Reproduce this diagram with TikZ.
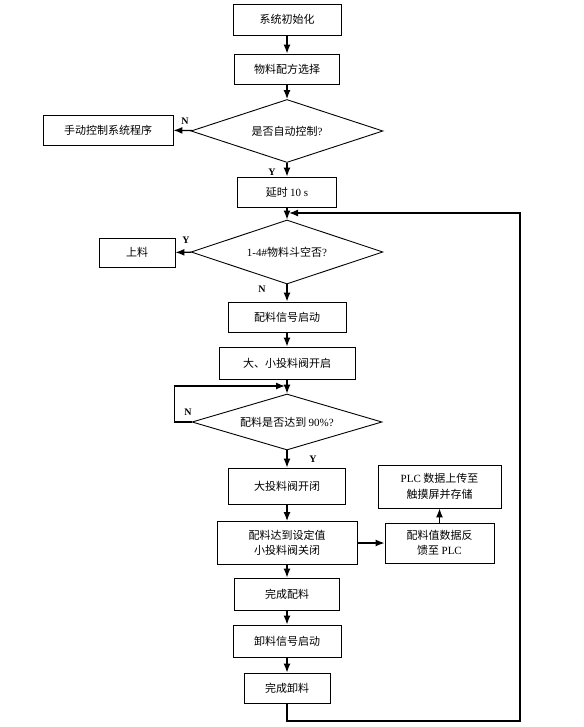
\documentclass[tikz,border=0pt]{standalone}
\usepackage{fontspec}
\setmainfont{Liberation Serif}
\newfontfamily\cjk{Noto Sans CJK SC}
\usetikzlibrary{shapes.geometric,arrows.meta}

\begin{document}
\begin{tikzpicture}[x=1pt, y=-1pt,
  every node/.style={font=\cjk\fontsize{11}{15.5}\selectfont},
  box/.style={rectangle, draw, line width=0.9pt, align=center, minimum height=30pt},
  choice/.style={diamond, draw, line width=0.9pt, aspect=3, minimum width=192pt, minimum height=63pt, inner sep=0pt},
  arr/.style={-{Latex[length=9pt,width=7pt]}, line width=1.3pt},
  yn/.style={font=\rmfamily\bfseries\fontsize{10}{12}\selectfont, inner sep=0pt}]

\useasboundingbox (0,0) rectangle (583,727);

% The batching flow chart, one column down the middle.

\node[box, minimum width=108pt, minimum height=31pt] (init) at (287,19.5) {系统初始化};
\node[box, minimum width=105pt] (recipe) at (287,69) {物料配方选择};
\node[choice] (auto) at (287,131) {是否自动控制{\rmfamily ?}};
\node[box, minimum width=130pt] (manual) at (108,130) {手动控制系统程序};
\node[box, minimum width=99pt] (delay) at (287,192) {延时 {\rmfamily 10 s}};
\coordinate (join1) at (287,213);
\node[choice, minimum height=64pt] (empty) at (287,252) {{\rmfamily 1-4\#}物料斗空否{\rmfamily ?}};
\node[box, minimum width=76pt, minimum height=29pt] (feed) at (137,252.5) {上料};
\node[box, minimum width=118pt] (start) at (287,317) {配料信号启动};
\node[box, minimum width=136pt, minimum height=32pt] (open) at (287,363) {大、小投料阀开启};
\coordinate (join2) at (287,386);
\node[choice, minimum width=190pt, minimum height=56pt] (check) at (287,422) {配料是否达到 {\rmfamily 90\%?}};
\node[box, minimum width=117pt, minimum height=36pt] (bigclose) at (287,486) {大投料阀开闭};
\node[box, minimum width=140pt, minimum height=43pt] (smallclose) at (287,543) {配料达到设定值\\小投料阀关闭};
\node[box, minimum width=109pt, minimum height=40pt] (feedback) at (439.5,543) {配料值数据反\\馈至 {\rmfamily PLC}};
\node[box, minimum width=123pt, minimum height=43pt] (upload) at (439.5,486.5) {{\rmfamily PLC} 数据上传至\\触摸屏并存储};
\node[box, minimum width=105pt, minimum height=32pt] (done) at (287,594) {完成配料};
\node[box, minimum width=108pt, minimum height=32pt] (unload) at (287,641) {卸料信号启动};
\node[box, minimum width=86pt] (finish) at (287,688) {完成卸料};

\draw[arr] (init) -- (recipe);
\draw[arr] (recipe) -- (auto);
\draw[arr] (auto) -- (manual);
\draw[arr] (auto) -- (delay);
\draw[arr] (delay) -- (empty);
\draw[arr] (empty) -- (feed);
\draw[arr] (empty) -- (start);
\draw[arr] (start) -- (open);
\draw[arr] (open) -- (check);
\draw[arr, shorten >=2pt] (check.west) -- ++(-17,0) |- (join2);
\draw[arr] (check) -- (bigclose);
\draw[arr] (bigclose) -- (smallclose);
\draw[arr] (smallclose) -- (feedback);
\draw[arr] (feedback) -- (upload);
\draw[arr] (smallclose) -- (done);
\draw[arr] (done) -- (unload);
\draw[arr] (unload) -- (finish);
\draw[arr, shorten >=2pt] (finish) -- (287,721) -| (520,213) -- (join1);

\node[yn] (n1) at (185,121) {N};
\node[yn] (y1) at (272,172) {Y};
\node[yn] (y2) at (186,240) {Y};
\node[yn] (n2) at (262,289) {N};
\node[yn] (n3) at (188,412) {N};
\node[yn] (y3) at (313,459) {Y};

\end{tikzpicture}
\end{document}
